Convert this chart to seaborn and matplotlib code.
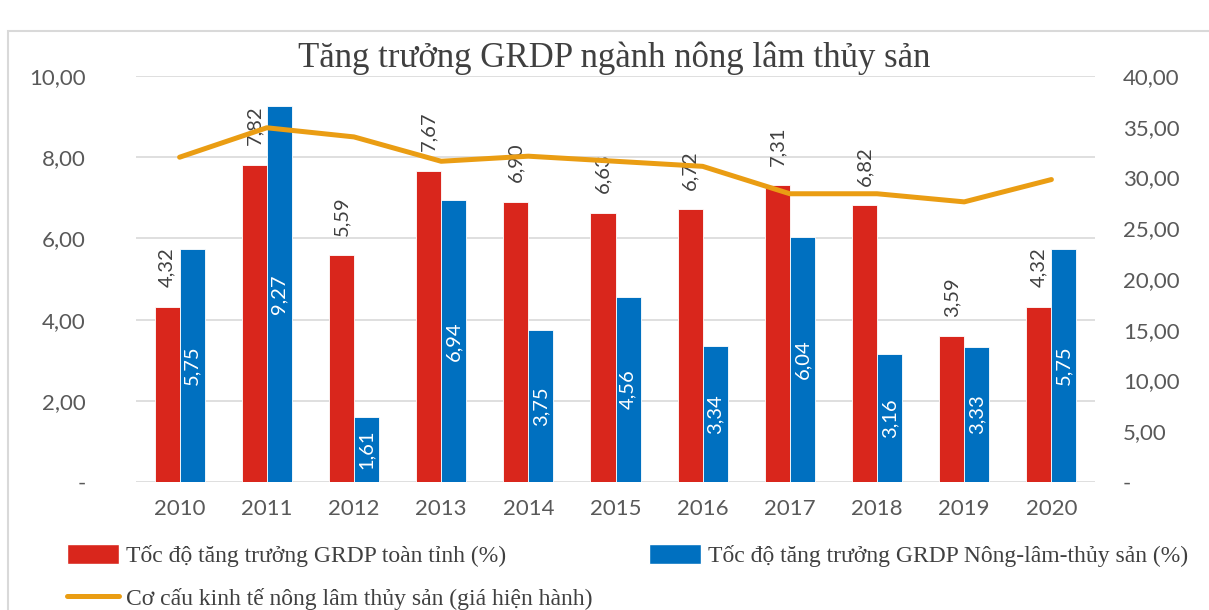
import pandas as pd
import numpy as np
import matplotlib.pyplot as plt
import seaborn as sns
from matplotlib.patches import Patch, Rectangle
from matplotlib.lines import Line2D
from matplotlib.ticker import FuncFormatter, MultipleLocator

years = ["2010", "2011", "2012", "2013", "2014", "2015", "2016", "2017", "2018", "2019", "2020"]
grdp_total = [4.32, 7.82, 5.59, 7.67, 6.90, 6.63, 6.72, 7.31, 6.82, 3.59, 4.32]
grdp_agri = [5.75, 9.27, 1.61, 6.94, 3.75, 4.56, 3.34, 6.04, 3.16, 3.33, 5.75]
agri_share = [32.0, 34.9, 34.0, 31.6, 32.1, 31.6, 31.1, 28.4, 28.4, 27.6, 29.8]

name_total = "Tốc độ tăng trưởng GRDP toàn tỉnh (%)"
name_agri = "Tốc độ tăng trưởng GRDP Nông-lâm-thủy sản (%)"
name_share = "Cơ cấu kinh tế nông lâm thủy sản (giá hiện hành)"
title = "Tăng trưởng GRDP ngành nông lâm thủy sản"

RED = "#D9261C"
BLUE = "#0070C0"
ORANGE = "#EA9D13"
GRID = "#D9D9D9"
TXT = "#595959"

sns.set_style("white")
plt.rcParams["font.family"] = ["Lato", "DejaVu Sans"]


def vn(v):
    # dấu phẩy thập phân, số 0 hiện là "-"
    if abs(v) < 1e-9:
        return "-"
    return f"{v:,.2f}".replace(",", "X").replace(".", ",").replace("X", ".")


df = pd.DataFrame({
    "year": years * 2,
    "value": grdp_total + grdp_agri,
    "series": [name_total] * len(years) + [name_agri] * len(years),
})

fig = plt.figure(figsize=(12.09, 6.10), dpi=100)
ax = fig.add_axes([0.1125, 0.2098, 0.7932, 0.6656])

sns.barplot(data=df, x="year", y="value", hue="series", palette=[RED, BLUE],
            width=0.574, gap=0, saturation=1, ax=ax, legend=False,
            edgecolor="white", linewidth=0.6)

ax.set_ylim(0, 10)
ax.set_xlim(-0.5, len(years) - 0.5)
ax.yaxis.set_major_locator(MultipleLocator(2))
ax.yaxis.set_major_formatter(FuncFormatter(lambda v, p: vn(v)))
ax.grid(axis="y", color=GRID, linewidth=1.2)
ax.set_axisbelow(True)
for s in ax.spines.values():
    s.set_visible(False)
ax.tick_params(axis="both", length=0, labelsize=16, labelcolor=TXT)
ax.tick_params(axis="y", pad=36)
ax.tick_params(axis="x", pad=12)
ax.set_xlabel("")
ax.set_ylabel("")

red_bars, blue_bars = ax.containers[0], ax.containers[1]
for bar, v in zip(red_bars, grdp_total):
    ax.annotate(vn(v), (bar.get_x() + bar.get_width() / 2, v), xytext=(0, 14),
                textcoords="offset points", rotation=90, ha="center", va="bottom",
                fontsize=14.5, color="#404040")
for bar, v in zip(blue_bars, grdp_agri):
    ax.text(bar.get_x() + bar.get_width() / 2, v / 2, vn(v), rotation=90,
            ha="center", va="center", fontsize=14.5, color="white")

ax2 = ax.twinx()
sns.lineplot(x=np.arange(len(years)), y=agri_share, color=ORANGE, linewidth=3.6,
             ax=ax2, solid_capstyle="round", solid_joinstyle="round")
ax2.set_ylim(0, 40)
ax2.yaxis.set_major_locator(MultipleLocator(5))
ax2.yaxis.set_major_formatter(FuncFormatter(lambda v, p: vn(v)))
for s in ax2.spines.values():
    s.set_visible(False)
ax2.tick_params(axis="y", length=0, labelsize=16, labelcolor=TXT, pad=20)
ax2.grid(False)

fig.text(0.508, 0.905, title, family="Liberation Serif", fontsize=25,
         color="#404040", ha="center", va="center")

handles = [Patch(facecolor=RED), Line2D([], [], color=ORANGE, linewidth=3.6, solid_capstyle="round"),
           Patch(facecolor=BLUE)]
labels = [name_total, name_share, name_agri]
fig.legend(handles, labels, ncol=2, loc="upper left", bbox_to_anchor=(0.038, 0.143),
           frameon=False, prop={"family": "Liberation Serif", "size": 17},
           labelcolor="#404040", handlelength=2.2, handleheight=0.9,
           columnspacing=2.4, handletextpad=0.3, labelspacing=0.85)

fig.patches.append(Rectangle((0.007, -0.05), 1.05, 1.0, transform=fig.transFigure,
                             fill=False, edgecolor=GRID, linewidth=1.5))

fig.savefig("out.png", dpi=100)
